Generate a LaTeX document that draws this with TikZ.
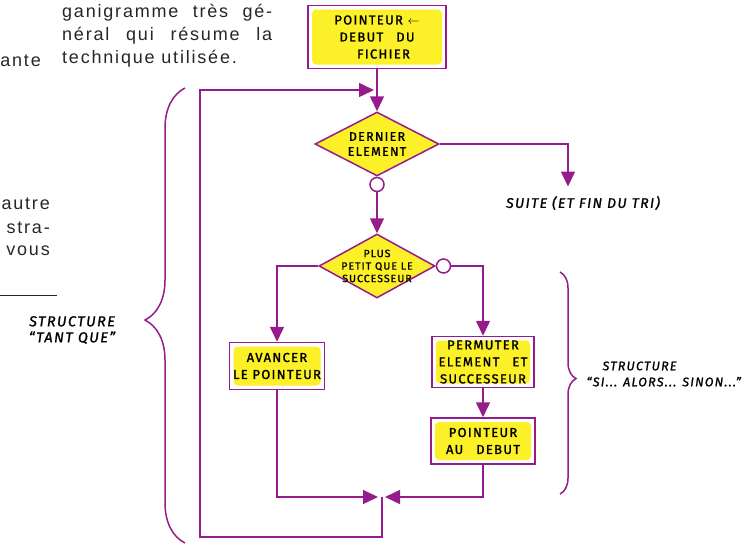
\documentclass[tikz,border=0pt]{standalone}
\usepackage{fontspec}
\newfontfamily\printfont[LetterSpace=10]{Liberation Sans}
\newfontfamily\handfont[LetterSpace=10, FakeBold=1.2]{Fira Sans}
\usepackage{tikz}
\usetikzlibrary{shapes.geometric, arrows.meta, positioning, calc, decorations.pathreplacing}
\definecolor{feutre}{RGB}{150,28,140}
\definecolor{surligne}{RGB}{252,240,40}

\begin{document}
\begin{tikzpicture}[x=1pt, y=-1pt,
  trait/.style={draw=feutre, line width=1.5pt},
  fleche/.style={trait, -{Triangle[length=15pt,width=14pt]}},
  boite/.style={rectangle, trait, fill=white, inner sep=0pt, align=center,
    font=\handfont\fontsize{13}{17}\selectfont,
    path picture={\fill[surligne, rounded corners=4pt]
      ([shift={(4pt,-4pt)}]path picture bounding box.north west) rectangle
      ([shift={(-4pt,4pt)}]path picture bounding box.south east);}},
  losange/.style={diamond, trait, fill=surligne, aspect=2, inner sep=-8pt, align=center},
  pastille/.style={circle, trait, fill=white, minimum size=14pt, inner sep=0pt},
  etiquette/.style={font=\handfont\itshape\fontsize{12.5}{16}\selectfont},
  texte/.style={font=\printfont\fontsize{18}{23}\selectfont, text=black!85, inner sep=0pt}]
  \useasboundingbox (0,0) rectangle (749,544);

  % Printed text of the page
  \node[texte, anchor=north west, text width=210pt, align=justify] (para) at (62,4)
    {ganigramme très gé-\linebreak néral qui résume la\linebreak technique utilisée.};
  \node[texte, anchor=east] (ante) at (41,61) {ante};
  \node[texte, anchor=east] (autre) at (50,204) {autre};
  \node[texte, anchor=east] (stra) at (50,228) {stra-};
  \node[texte, anchor=east] (vous) at (50,251) {vous};
  \draw[black!85, line width=1pt] (0,295) -- (57,295);

  % Flowchart nodes
  \node[boite, minimum width=138pt, minimum height=63pt] (debut) at (377,37)
    {POINTEUR $\leftarrow$\\DEBUT\quad DU\\\quad FICHIER};
  \node[losange, minimum width=124pt, minimum height=64pt,
    font=\handfont\fontsize{12.5}{15}\selectfont] (dernier) at (377,144) {DERNIER\\ELEMENT};
  \node[pastille, below=0pt of dernier] (rond1) {};
  \node[losange, minimum width=116pt, minimum height=64pt,
    font=\handfont\fontsize{10.5}{12.5}\selectfont] (plus) at (377,266) {PLUS\\PETIT QUE LE\\SUCCESSEUR};
  \node[pastille, right=0pt of plus] (rond2) {};
  \node[boite, minimum width=95pt, minimum height=47pt] (avancer) at (277,366)
    {AVANCER\\LE POINTEUR};
  \node[boite, minimum width=102pt, minimum height=51pt] (permuter) at (483,362)
    {PERMUTER\\ELEMENT\quad ET\\SUCCESSEUR};
  \node[boite, minimum width=104pt, minimum height=46pt, below=29pt of permuter] (pdebut)
    {POINTEUR\\AU\quad DEBUT};
  \node[etiquette, font=\handfont\itshape\fontsize{14}{16}\selectfont] (suite) at (583,203)
    {SUITE (ET FIN DU TRI)};

  \coordinate (jonction) at (382,497);
  \coordinate (coin) at (200,537);
  \coordinate (retour) at (377,90);

  % Connectors
  \draw[fleche] (debut.south) -- (dernier.north);
  \draw[fleche, shorten >=6pt] (dernier.east) -| ([xshift=-15pt]suite.north);
  \draw[fleche] (rond1) -- (plus.north);
  \draw[fleche] (plus.west) -| (avancer.north);
  \draw[fleche] (rond2.east) -| (permuter.north);
  \draw[fleche] (permuter.south) -- (pdebut.north);
  \draw[fleche, shorten >=4pt] (avancer.south) |- (jonction);
  \draw[fleche, shorten >=3pt] (pdebut.south) |- (jonction);
  \draw[fleche, shorten >=3pt] (jonction) |- (coin) |- (retour);

  % Braces and their labels
  \draw[trait, decorate, decoration={brace, amplitude=40pt, aspect=0.49}] (185,543) -- (185,88);
  \node[etiquette, align=center, font=\handfont\itshape\fontsize{14.5}{16}\selectfont] (tantque) at (72,330)
    {STRUCTURE\\“TANT QUE”};
  \draw[trait, decorate, decoration={brace, amplitude=16pt, aspect=0.48}] (560,272) -- (560,494);
  \node[etiquette, anchor=west, align=left] (sialors) at (583,374)
    {\hspace*{16pt}STRUCTURE\\“SI... ALORS... SINON...”};
\end{tikzpicture}
\end{document}
